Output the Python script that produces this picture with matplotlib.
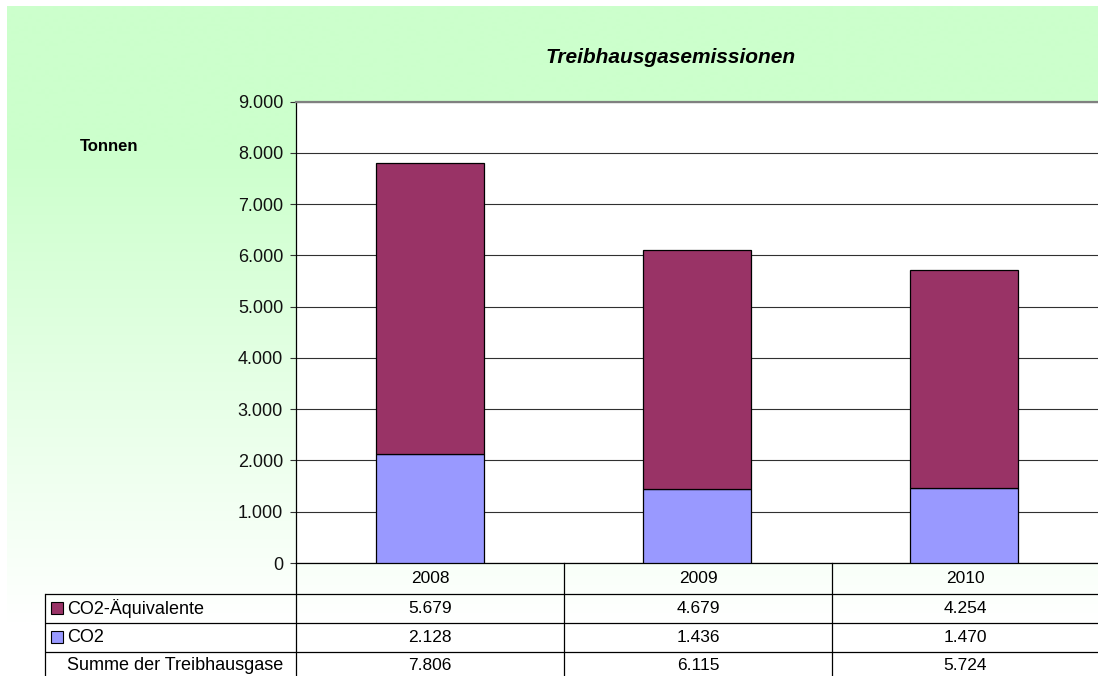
import numpy as np
import matplotlib
matplotlib.use("Agg")
import matplotlib.pyplot as plt
from matplotlib.patches import Rectangle
from matplotlib.ticker import FuncFormatter, MultipleLocator

plt.rcParams['font.family'] = ['Liberation Sans', 'DejaVu Sans']

# ---- data ----
years = ["2008", "2009", "2010"]
series_names = ["CO2-Äquivalente", "CO2"]
co2 = [2128, 1436, 1470]
co2_aequivalente = [5679, 4679, 4254]
summe = [7806, 6115, 5724]
summe_label = "Summe der Treibhausgase"
title = "Treibhausgasemissionen"
ylabel = "Tonnen"
col_co2 = "#9999FF"
col_aeq = "#993366"

W, H = 1098, 676
fig = plt.figure(figsize=(W / 100, H / 100), dpi=100)
fig.patch.set_facecolor("white")

def de(v):
    return f"{v:,}".replace(",", ".")

# ---- background gradient (pixel coordinates) ----
bg = fig.add_axes([0, 0, 1, 1], zorder=0)
bg.set_xlim(0, W); bg.set_ylim(H, 0); bg.axis("off")
yy = np.arange(6, 624)
t = np.clip((yy - 150) / (623 - 150), 0, 1)
top = np.array([204, 255, 204]) / 255.0
grad = top[None, :] * (1 - t[:, None]) + np.ones(3)[None, :] * t[:, None]
bg.imshow(grad[:, None, :], extent=[7, W, 623, 6], aspect="auto", interpolation="bilinear")

# ---- main axes ----
left, right, ptop, pbot = 296, 1098, 101.7, 563
ax = fig.add_axes([left / W, 1 - pbot / H, (right - left) / W, (pbot - ptop) / H], zorder=1)
ax.set_facecolor("white")
x = np.arange(len(years))
ax.bar(x, co2, width=0.404, color=col_co2, edgecolor="black", linewidth=0.9, zorder=3)
ax.bar(x, co2_aequivalente, bottom=co2, width=0.404, color=col_aeq, edgecolor="black", linewidth=0.9, zorder=3)
ax.set_xlim(-0.5, len(years) - 0.5)
ax.set_ylim(0, 9000)
ax.yaxis.set_major_locator(MultipleLocator(1000))
ax.yaxis.set_major_formatter(FuncFormatter(lambda v, p: de(int(round(v)))))
ax.grid(axis="y", color="#303030", linewidth=0.8, zorder=1)
ax.set_xticks([])
ax.tick_params(axis="y", direction="out", length=4.3, width=0.8, color="#303030",
               pad=5, labelsize=13, labelcolor="#111111")
for s in ["right"]:
    ax.spines[s].set_visible(False)
ax.spines["top"].set_color("#808080")
ax.spines["top"].set_linewidth(1.6)
ax.spines["left"].set_color("black")
ax.spines["left"].set_linewidth(0.9)
ax.spines["bottom"].set_color("black")
ax.spines["bottom"].set_linewidth(0.9)

# ---- overlay: title, label, data table ----
ov = fig.add_axes([0, 0, 1, 1], zorder=2)
ov.set_xlim(0, W); ov.set_ylim(H, 0); ov.axis("off")
ov.patch.set_alpha(0)

ov.text(671, 63, title, ha="center", va="baseline", fontsize=15,
        fontweight="bold", fontstyle="italic")
ov.text(109, 151, ylabel, ha="center", va="baseline", fontsize=12, fontweight="bold")

lw = 0.9
col_edges = [left, 564, 832, right]
row_lines = [593.5, 622.5, 651.5]
for y in row_lines:
    ov.plot([45, W], [y, y], color="black", lw=lw, solid_capstyle="butt")
ov.plot([45, 45], [593.5, H], color="black", lw=lw)
for cx in col_edges[:-1]:
    ov.plot([cx, cx], [pbot, H], color="black", lw=lw)

col_centers = [(col_edges[i] + col_edges[i + 1]) / 2 for i in range(len(years))]
row_centers = [578.5, 608.5, 637.5, 665.5]
for c, yr in zip(col_centers, years):
    ov.text(c, row_centers[0], yr, ha="center", va="center", fontsize=12.5)
rows = [(series_names[0], co2_aequivalente, col_aeq),
        (series_names[1], co2, col_co2),
        (summe_label, summe, None)]
for (name, vals, colr), yc in zip(rows, row_centers[1:]):
    if colr is not None:
        ov.add_patch(Rectangle((50.5, yc - 6.5), 12, 12, facecolor=colr,
                               edgecolor="black", linewidth=0.8))
    ov.text(67, yc, name, ha="left", va="center", fontsize=13)
    for c, v in zip(col_centers, vals):
        ov.text(c, yc, de(v), ha="center", va="center", fontsize=12.5)

fig.savefig("out.png", dpi=100)
